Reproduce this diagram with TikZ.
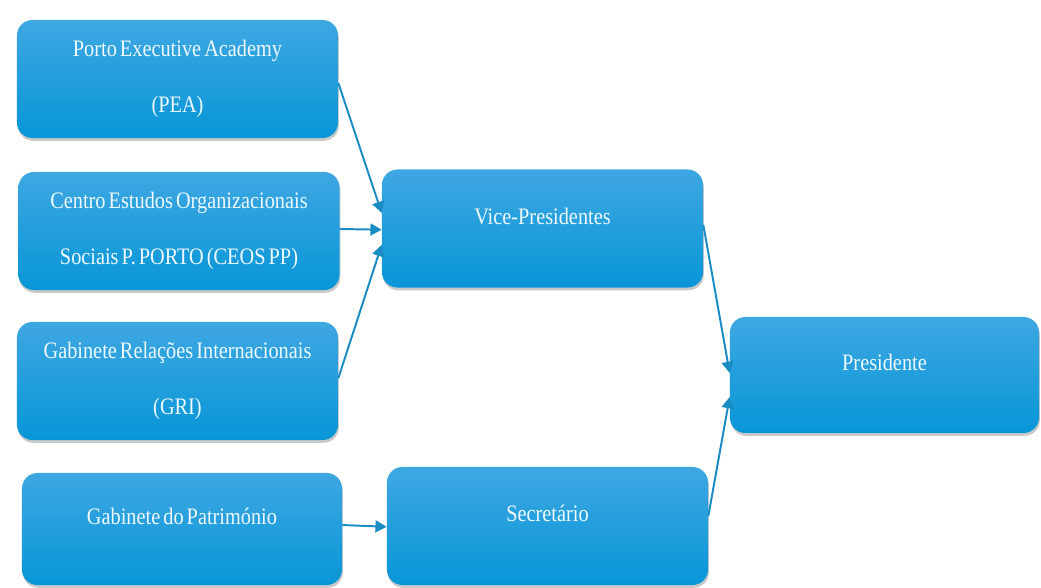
\documentclass[tikz,border=0pt]{standalone}
\usepackage{fontspec}
\setmainfont[FakeStretch=0.86,WordSpace=0.6]{Liberation Serif}
\usetikzlibrary{arrows.meta}
\usetikzlibrary{shadows}
\definecolor{boxtop}{RGB}{62,167,226}
\definecolor{boxbot}{RGB}{8,150,215}
\definecolor{boxtext}{RGB}{238,249,253}
\definecolor{linkblue}{RGB}{26,140,196}

\begin{document}
\begin{tikzpicture}[x=0.025cm,y=-0.025cm,
  box/.style={rounded corners=11pt,top color=boxtop,bottom color=boxbot,text=boxtext,
    minimum width=8.025cm,minimum height=2.95cm,inner sep=0pt,align=center,
    font=\fontsize{16.8}{40}\selectfont,
    drop shadow={shadow xshift=0.6pt,shadow yshift=-2pt,opacity=0.3,fill=black!70}},
  onebox/.style={box,text height=0.38cm,text depth=0.6cm},
  link/.style={draw=linkblue,line width=1.4pt,-{Triangle[length=8pt,width=8.5pt]}}]

\useasboundingbox (0,0) rectangle (1041,587);

% left column
\node[box] (pea) at (177.5,79) {Porto Executive Academy\\(PEA)};
\node[box] (ceos) at (179,231) {Centro Estudos Organizacionais\\Sociais P. PORTO (CEOS PP)};
\node[box] (gri) at (177.5,381) {Gabinete Relações Internacionais\\(GRI)};
\node[onebox,minimum height=2.8cm,minimum width=8cm] (patr) at (182,529) {Gabinete do Património};

% middle and right
\node[onebox] (vice) at (542.5,228.5) {Vice-Presidentes};
\node[onebox] (secr) at (547.5,526) {Secretário};
\node[onebox,minimum width=7.725cm,minimum height=2.9cm] (pres) at (884.5,375) {Presidente};

\draw[link] ([yshift=-0.1cm]pea.east) -- ([yshift=0.39cm]vice.west);
\draw[link] ([yshift=0.05cm]ceos.east) -- ([yshift=-0.03cm]vice.west);
\draw[link] ([yshift=0.07cm]gri.east) -- ([yshift=-0.41cm]vice.west);
\draw[link] ([yshift=0.1cm]patr.east) -- ([yshift=-0.02cm]secr.west);
\draw[link] ([yshift=0.09cm]vice.east) -- ([yshift=0.05cm]pres.west);
\draw[link] ([yshift=0.25cm]secr.east) -- ([yshift=-0.55cm]pres.west);

\end{tikzpicture}
\end{document}
